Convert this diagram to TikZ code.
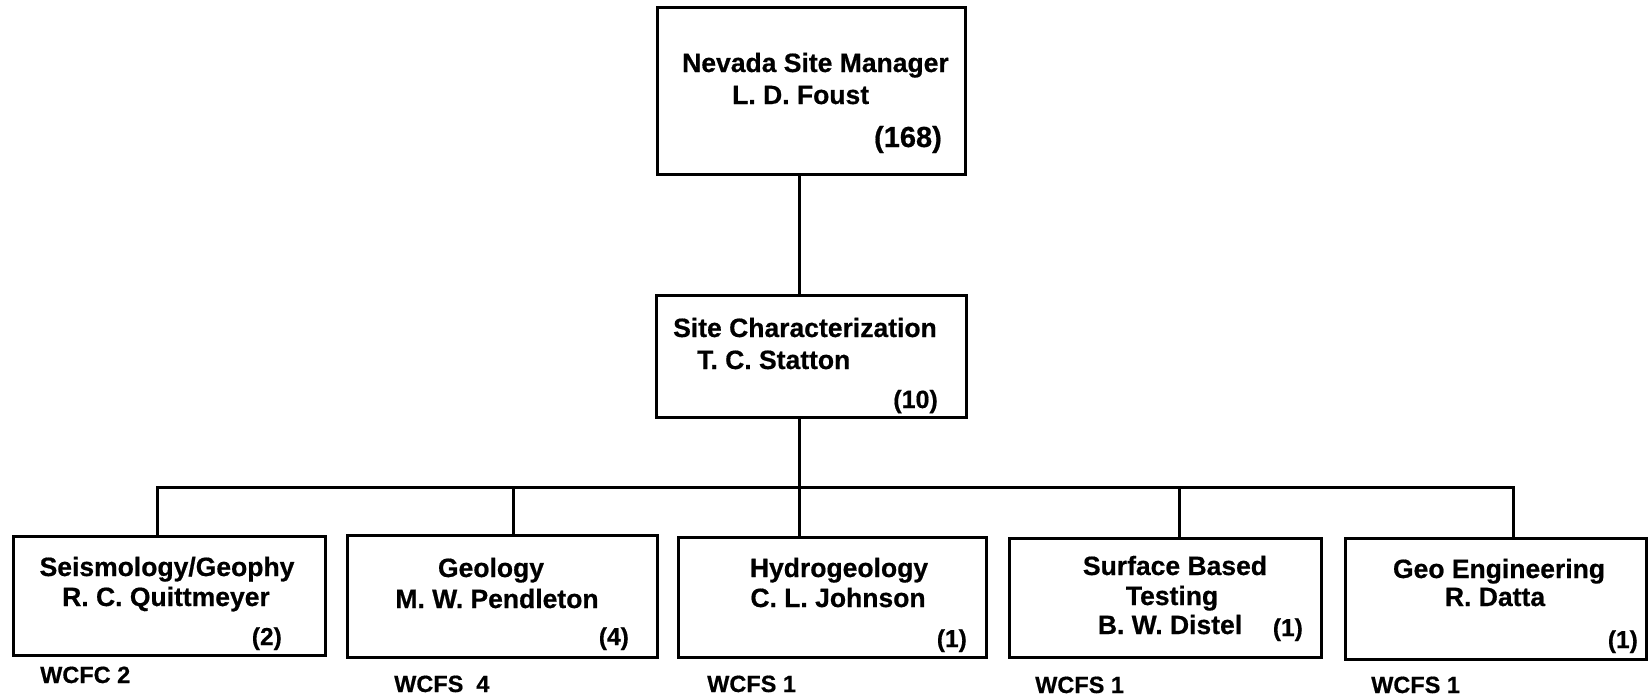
\documentclass[tikz,border=0pt]{standalone}
\usepackage{fontspec}
\setmainfont{Liberation Sans}[BoldFeatures={FakeBold=0.6}]
\begin{document}
\begin{tikzpicture}[x=1pt,y=-1pt,
  box/.style={draw, line width=3pt, inner sep=0pt, outer sep=0pt, anchor=north west},
  wire/.style={line width=3pt},
  txt/.style={inner sep=0pt, font=\fontsize{26.5}{31}\selectfont\bfseries},
  cnt/.style={inner sep=0pt, anchor=base east, font=\fontsize{24.5}{29}\selectfont\bfseries},
  code/.style={inner sep=0pt, anchor=base west, font=\fontsize{23.5}{28}\selectfont\bfseries}]
\useasboundingbox (0,0) rectangle (1648,697);

% boxes
\node[box, minimum width=308pt, minimum height=167pt] (top) at (657,7) {};
\node[box, minimum width=310pt, minimum height=122pt] (sc) at (656,295) {};
\node[box, minimum width=312pt, minimum height=119pt] (b1) at (13,536) {};
\node[box, minimum width=310pt, minimum height=122pt] (b2) at (347,535) {};
\node[box, minimum width=308pt, minimum height=120pt] (b3) at (678,537) {};
\node[box, minimum width=312pt, minimum height=119pt] (b4) at (1009,538) {};
\node[box, minimum width=301pt, minimum height=121pt] (b5) at (1345,538) {};

% bus junctions
\coordinate (j1) at (157,487);
\coordinate (j2) at (513,487);
\coordinate (j3) at (799,487);
\coordinate (j4) at (1179,487);
\coordinate (j5) at (1513,487);

% connectors
\draw[wire] (j3 |- top.south) -- (j3 |- sc.north);
\draw[wire] (j3 |- sc.south) -- (j3 |- b3.north);
\draw[wire] (j1 |- b1.north) -- (j1) -- (j5) -- (j5 |- b5.north);
\draw[wire] (j2) -- (j2 |- b2.north);
\draw[wire] (j4) -- (j4 |- b4.north);

% top box text
\node[txt, anchor=base west] (t1) at (682,72) {Nevada Site Manager};
\node[txt, anchor=base west] (t2) at (732,104) {L. D. Foust};
\node[inner sep=0pt, anchor=base east, font=\fontsize{29}{34}\selectfont\bfseries] (t3) at (942,147) {(168)};

% site characterization
\node[txt, anchor=base west] (s1) at (673,337) {Site Characterization};
\node[txt, anchor=base west] (s2) at (697,369) {T. C. Statton};
\node[inner sep=0pt, anchor=base east, font=\fontsize{25}{30}\selectfont\bfseries] (s3) at (938,408) {(10)};

% box 1
\node[txt, anchor=base] (a1) at (167,576) {Seismology/Geophy};
\node[txt, anchor=base] (a2) at (166,606) {R. C. Quittmeyer};
\node[cnt] (a3) at (282,645) {(2)};
\node[code] (a4) at (40,683) {WCFC 2};

% box 2
\node[txt, anchor=base] (g1) at (491,577) {Geology};
\node[txt, anchor=base] (g2) at (497,608) {M. W. Pendleton};
\node[cnt] (g3) at (629,645) {(4)};
\node[code] (g4) at (394,692) {WCFS\ \ 4};

% box 3
\node[txt, anchor=base] (h1) at (839,577) {Hydrogeology};
\node[txt, anchor=base] (h2) at (838,607) {C. L. Johnson};
\node[cnt] (h3) at (967,647) {(1)};
\node[code] (h4) at (707,692) {WCFS 1};

% box 4
\node[txt, anchor=base] (f1) at (1175,575) {Surface Based};
\node[txt, anchor=base] (f2) at (1172,605) {Testing};
\node[txt, anchor=base] (f3) at (1170,634) {B. W. Distel};
\node[cnt] (f4) at (1303,636) {(1)};
\node[code] (f5) at (1035,693) {WCFS 1};

% box 5
\node[txt, anchor=base] (e1) at (1499,578) {Geo Engineering};
\node[txt, anchor=base] (e2) at (1495,606) {R. Datta};
\node[cnt] (e3) at (1638,648) {(1)};
\node[code] (e4) at (1371,693) {WCFS 1};
\end{tikzpicture}
\end{document}
